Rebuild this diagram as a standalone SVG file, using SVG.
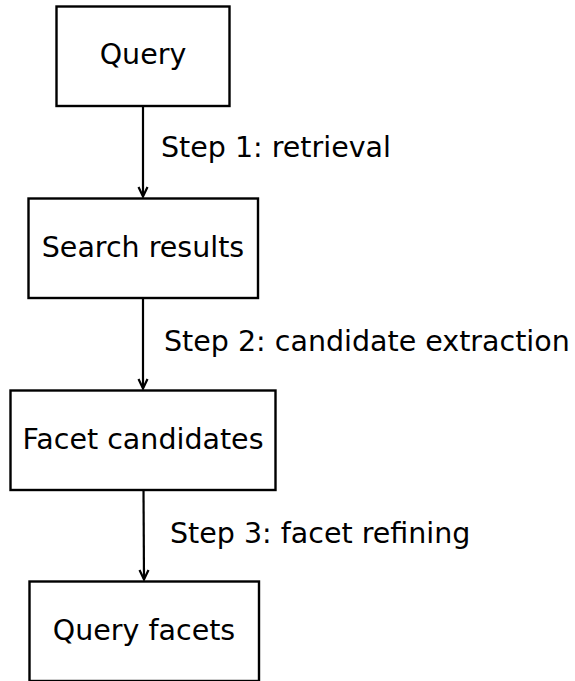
<svg xmlns="http://www.w3.org/2000/svg" width="575" height="681" viewBox="0 0 575 681">
<style>
.box{fill:#fff;stroke:#000;stroke-width:2.4}
.lbl{font-family:"DejaVu Sans",sans-serif;font-size:28.5px;fill:#000}
.c{text-anchor:middle}
.edge{stroke:#000;stroke-width:2.2;fill:none}
.head{stroke:#000;stroke-width:2.2;fill:none;stroke-linejoin:miter}
</style>
<rect width="575" height="681" fill="#fff"/>
<g id="connectors">
<g id="e1"><line class="edge" x1="143" y1="106" x2="143" y2="196"/><polyline class="head" points="138.5,187 143,196.5 147.5,187"/><text class="lbl" x="161" y="157">Step 1: retrieval</text></g>
<g id="e2"><line class="edge" x1="143" y1="298" x2="143" y2="388"/><polyline class="head" points="138.5,379 143,388.5 147.5,379"/><text class="lbl" x="164" y="351">Step 2: candidate extraction</text></g>
<g id="e3"><line class="edge" x1="143.5" y1="490" x2="144" y2="579"/><polyline class="head" points="139.5,570 144,579.5 148.5,570"/><text class="lbl" x="170" y="543">Step 3: facet refining</text></g>
</g>
<g id="query"><rect class="box" x="56.5" y="6.5" width="173" height="99.5"/><text class="lbl c" x="143" y="64">Query</text></g>
<g id="search"><rect class="box" x="28.5" y="198.5" width="229.5" height="99.5"/><text class="lbl c" x="143" y="257">Search results</text></g>
<g id="candidates"><rect class="box" x="10.5" y="390.5" width="265" height="99.5"/><text class="lbl c" x="143" y="449">Facet candidates</text></g>
<g id="facets"><rect class="box" x="29.5" y="581.5" width="229.5" height="99.5"/><text class="lbl c" x="144" y="640">Query facets</text></g>
</svg>
